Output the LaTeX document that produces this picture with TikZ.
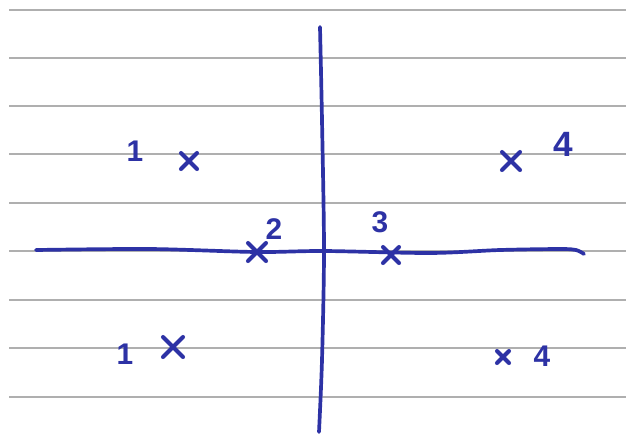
\documentclass[tikz,border=0pt]{standalone}
\usepackage{fontspec}
\setmainfont{Liberation Sans}
\definecolor{ink}{RGB}{45,50,165}
\definecolor{rule}{RGB}{175,175,175}
\tikzset{
  ruleline/.style={draw=rule, line width=0.6pt},
  axisline/.style={draw=ink, line width=2.1pt, line cap=round, line join=round},
  xstroke/.style={draw=ink, line width=2.3pt, line cap=round},
  lbl/.style={text=ink, font=\fontsize{17}{17}\selectfont\bfseries, inner sep=0pt},
  biglbl/.style={lbl, font=\fontsize{20}{20}\selectfont\bfseries}
}
\newcommand\handx[2]{% center name, half size
  \draw[xstroke] ($(#1)+(-#2,-#2)$) -- ($(#1)+(#2,#2)$);
  \draw[xstroke] ($(#1)+(-#2,#2)$) -- ($(#1)+(#2,-#2)$);
}
\usetikzlibrary{calc}
\begin{document}
\begin{tikzpicture}[x=0.02cm,y=-0.02cm]
\useasboundingbox (0,0) rectangle (626,444);
\fill[white] (0,0) rectangle (626,444);
% ruled paper lines
\foreach \yy in {10,58,106,154,203,251,300,348,397}
  \draw[ruleline] (9,\yy) -- (626,\yy);
% axes
\coordinate (hl) at (36,250);
\coordinate (hr) at (584,254);
\coordinate (vt) at (320,27);
\coordinate (vb) at (319,432);
\draw[axisline] plot[smooth] coordinates {(hl) (150,249) (256,252) (324,251) (430,253) (500,250) (560,249) (576,250) (hr)};
\draw[axisline] plot[smooth] coordinates {(vt) (322,120) (324,250) (322,360) (vb)};
% crosses
\coordinate (p1a) at (189,161);
\coordinate (p4a) at (511,161);
\coordinate (p2) at (257,252);
\coordinate (p3) at (391,255);
\coordinate (p1b) at (173,347);
\coordinate (p4b) at (503,357);
\handx{p1a}{8}
\handx{p4a}{9}
\handx{p2}{9}
\handx{p3}{8}
\handx{p1b}{10}
\handx{p4b}{6}
% labels
\node[lbl] (l1a) at (135,151) {1};
\node[biglbl] (l4a) at (563,144) {4};
\node[lbl] (l2) at (274,229) {2};
\node[lbl] (l3) at (380,222) {3};
\node[lbl] (l1b) at (125,354) {1};
\node[lbl] (l4b) at (542,356) {4};
\end{tikzpicture}
\end{document}
